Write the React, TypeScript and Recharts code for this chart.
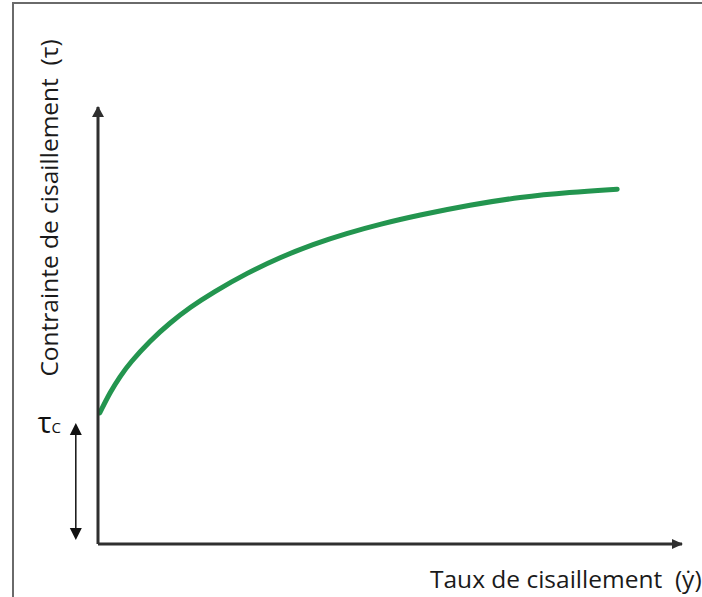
import React from "react";
import {
  LineChart,
  Line,
  XAxis,
  YAxis,
  ReferenceDot,
  ReferenceLine,
} from "recharts";

// shear rate (x) vs shear stress (y)
const shearRate = [0.3, 2.1, 3.8, 5.5, 8.9, 12.3, 15.8, 19.7, 25.5, 31.2, 36.8, 42.6, 48.3, 55.1, 63.7, 72.3, 80.8, 88.9];
const shearStress = [30.0, 34.8, 38.4, 41.5, 46.5, 50.6, 54.2, 57.6, 62.0, 65.6, 68.6, 71.1, 73.2, 75.3, 77.6, 79.4, 80.5, 81.2];

const data = shearRate.map((x, i) => ({ x, y: shearStress[i] }));

const xLabel = "Taux de cisaillement\u00a0 (ẏ)";
const yLabel = "Contrainte de cisaillement\u00a0 (τ)";

// yield stress marker (τc)
const tauArrowX = -3.8;
const tauArrowTop = 27.7;
const tauArrowBottom = 0.9;

const axisColor = "#2f2f2f";
const font = "'Open Sans', Lato, sans-serif";

const AxisArrowUp = (props: any) => {
  const { cx, cy } = props;
  return <polygon points={`${cx},${cy - 1} ${cx - 6},${cy + 10} ${cx + 6},${cy + 10}`} fill={axisColor} />;
};

const AxisArrowRight = (props: any) => {
  const { cx, cy } = props;
  return <polygon points={`${cx + 1},${cy} ${cx - 10},${cy - 5} ${cx - 10},${cy + 5}`} fill={axisColor} />;
};

const TauArrowUp = (props: any) => {
  const { cx, cy } = props;
  return <polygon points={`${cx},${cy} ${cx - 6},${cy + 12} ${cx + 6},${cy + 12}`} fill="#111" />;
};

const TauArrowDown = (props: any) => {
  const { cx, cy } = props;
  return <polygon points={`${cx},${cy} ${cx - 6},${cy - 12} ${cx + 6},${cy - 12}`} fill="#111" />;
};

const TauLabel = (props: any) => {
  const { cx, cy } = props;
  return (
    <text x={cx} y={cy} fill="#111" fontFamily={font}>
      <tspan fontSize={29}>τ</tspan>
      <tspan fontSize={15}>C</tspan>
    </text>
  );
};

export default function App() {
  return (
    <div style={{ position: "relative", width: 702, height: 597, overflow: "hidden" }}>
      <style>{`body{margin:0}`}</style>
      <div
        style={{
          position: "absolute",
          left: 12,
          top: 2,
          width: 700,
          height: 600,
          borderTop: "2px solid #6a6a6a",
          borderLeft: "2px solid #6a6a6a",
          boxSizing: "border-box",
        }}
      />
      <LineChart
        width={702}
        height={597}
        data={data}
        margin={{ top: 107, right: 20, bottom: 0, left: 38 }}
        style={{ position: "absolute", left: 0, top: 0 }}
      >
        <XAxis
          type="number"
          dataKey="x"
          domain={[0, 100]}
          height={53}
          tick={false}
          tickLine={false}
          axisLine={{ stroke: axisColor, strokeWidth: 3 }}
          label={({ viewBox }: any) => (
            <text
              x={viewBox.x + 332}
              y={viewBox.y + 44}
              fontSize={24.5}
              fontFamily={font}
              fill="#1a1a1a"
            >
              {xLabel}
            </text>
          )}
        />
        <YAxis
          type="number"
          domain={[0, 100]}
          width={60}
          tick={false}
          tickLine={false}
          axisLine={{ stroke: axisColor, strokeWidth: 3 }}
          label={({ viewBox }: any) => (
            <text
              x={viewBox.x + 20}
              y={208}
              transform={`rotate(-90, ${viewBox.x + 20}, 208)`}
              textAnchor="middle"
              fontSize={24.5}
              fontFamily={font}
              fill="#1a1a1a"
            >
              {yLabel}
            </text>
          )}
        />
        <Line
          type="basis"
          dataKey="y"
          stroke="#23954f"
          strokeWidth={5}
          strokeLinecap="round"
          dot={false}
          activeDot={false}
          isAnimationActive={false}
        />
        <ReferenceDot x={0} y={100} ifOverflow="visible" shape={<AxisArrowUp />} />
        <ReferenceDot x={100} y={0} ifOverflow="visible" shape={<AxisArrowRight />} />
        <ReferenceLine
          segment={[
            { x: tauArrowX, y: tauArrowBottom + 2.5 },
            { x: tauArrowX, y: tauArrowTop - 2.5 },
          ]}
          stroke="#111"
          strokeWidth={1.5}
          ifOverflow="visible"
        />
        <ReferenceDot x={tauArrowX} y={tauArrowTop} ifOverflow="visible" shape={<TauArrowUp />} />
        <ReferenceDot x={tauArrowX} y={tauArrowBottom} ifOverflow="visible" shape={<TauArrowDown />} />
        <ReferenceDot x={-10.3} y={25.4} ifOverflow="visible" shape={<TauLabel />} />
      </LineChart>
    </div>
  );
}
